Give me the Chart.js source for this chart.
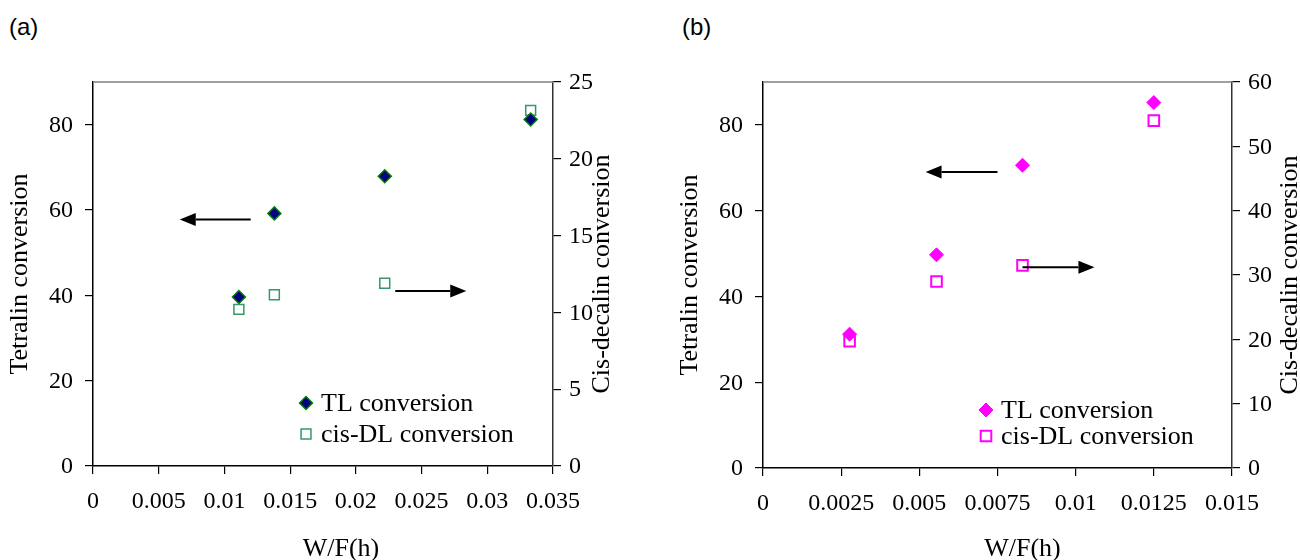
<!DOCTYPE html>
<html><head><meta charset="utf-8">
<script src="https://cdn.jsdelivr.net/npm/chart.js@4.4.1/dist/chart.umd.min.js"></script>
<style>
html,body{margin:0;padding:0;background:#fff;width:1300px;height:560px;overflow:hidden;}
canvas{position:absolute;top:0;}
#ca{left:0}
#cb{left:650px}
.lbl{position:absolute;top:13px;font-family:"Liberation Sans",Arial,sans-serif;font-size:24px;color:#000;line-height:28px}
</style></head><body>
<div class="lbl" style="left:9px">(a)</div>
<div class="lbl" style="left:682px">(b)</div>
<canvas id="ca" width="650" height="560"></canvas>
<canvas id="cb" width="650" height="560"></canvas>
<script>
// ---------- Data: panel (a) ----------
const xA = [0.0111, 0.0138, 0.0222, 0.0333];
const tlA = [39.6, 59.2, 67.9, 81.2];
const cisA = [10.2, 11.15, 11.9, 23.15];
const xTicksA = [0, 0.005, 0.01, 0.015, 0.02, 0.025, 0.03, 0.035];
const xTickLabelsA = ['0', '0.005', '0.01', '0.015', '0.02', '0.025', '0.03', '0.035'];
const y2TicksA = [0, 5, 10, 15, 20, 25];
const y2TickLabelsA = ['0', '5', '10', '15', '20', '25'];
const arrowsA = [
  {from: [0.0120, 57.8], to: [0.0066, 57.8], axis: 'y'},
  {from: [0.0230, 11.39], to: [0.0284, 11.39], axis: 'y2'}
];
// ---------- Data: panel (b) ----------
const xB = [0.00277, 0.00555, 0.0083, 0.0125];
const tlB = [31.2, 49.7, 70.6, 85.2];
const cisB = [19.7, 29.0, 31.5, 54.0];
const xTicksB = [0, 0.0025, 0.005, 0.0075, 0.01, 0.0125, 0.015];
const xTickLabelsB = ['0', '0.0025', '0.005', '0.0075', '0.01', '0.0125', '0.015'];
const y2TicksB = [0, 10, 20, 30, 40, 50, 60];
const y2TickLabelsB = ['0', '10', '20', '30', '40', '50', '60'];
const arrowsB = [
  {from: [0.0075, 69.0], to: [0.0052, 69.0], axis: 'y'},
  {from: [0.0083, 31.2], to: [0.0106, 31.2], axis: 'y2'}
];
// ---------- shared ----------
const yTicksLeft = [0, 20, 40, 60, 80];
const yTickLabelsLeft = ['0', '20', '40', '60', '80'];
const seriesNames = ['TL conversion', 'cis-DL conversion'];
const titleLeft = 'Tetralin conversion';
const titleRight = 'Cis-decalin conversion';
const titleX = 'W/F(h)';

const SERIF = '"Liberation Serif", "Times New Roman", serif';

const decorPlugin = {
  id: 'decor',
  afterDatasetsDraw(chart, args, o) {
    const ctx = chart.ctx, ca = chart.chartArea, sx = chart.scales.x, sy = chart.scales.y, sy2 = chart.scales.y2;
    ctx.save();
    // top border
    ctx.strokeStyle = '#808080'; ctx.lineWidth = 1.5;
    ctx.beginPath(); ctx.moveTo(ca.left, ca.top); ctx.lineTo(ca.right, ca.top); ctx.stroke();
    // tick labels, positioned by the library scales
    ctx.fillStyle = '#000'; ctx.font = '24px ' + SERIF;
    ctx.textBaseline = 'middle'; ctx.textAlign = 'center';
    sx.ticks.forEach((t, i) => ctx.fillText(o.labels.x[i], sx.getPixelForValue(t.value), ca.bottom + 36));
    ctx.textAlign = 'right';
    sy.ticks.forEach((t, i) => ctx.fillText(o.labels.y[i], ca.left - 20, sy.getPixelForValue(t.value) + 1));
    ctx.textAlign = 'left';
    sy2.ticks.forEach((t, i) => ctx.fillText(o.labels.y2[i], ca.right + 16, sy2.getPixelForValue(t.value) + 1));
    // arrows
    ctx.strokeStyle = '#000'; ctx.fillStyle = '#000'; ctx.lineWidth = 2;
    o.arrows.forEach(a => {
      const x0 = sx.getPixelForValue(a.from[0]);
      const x1 = sx.getPixelForValue(a.to[0]);
      const y = chart.scales[a.axis].getPixelForValue(a.from[1]);
      const dir = Math.sign(x1 - x0), hl = 16, hw = 6.5;
      ctx.beginPath(); ctx.moveTo(x0, y); ctx.lineTo(x1 - dir * hl, y); ctx.stroke();
      ctx.beginPath(); ctx.moveTo(x1, y); ctx.lineTo(x1 - dir * hl, y - hw); ctx.lineTo(x1 - dir * hl, y + hw); ctx.closePath(); ctx.fill();
    });
    // legend
    ctx.font = '26px ' + SERIF;
    ctx.textAlign = 'left'; ctx.textBaseline = 'middle';
    chart.data.datasets.forEach((ds, i) => {
      const lx = o.legend.x, ly = o.legend.y + i * o.legend.dy;
      ctx.fillStyle = ds.pointBackgroundColor; ctx.strokeStyle = ds.pointBorderColor; ctx.lineWidth = ds.pointBorderWidth;
      Chart.helpers.drawPoint(ctx, {pointStyle: ds.pointStyle, radius: ds.pointRadius, rotation: 0, borderWidth: ds.pointBorderWidth}, lx, ly);
      ctx.fillStyle = '#000';
      ctx.fillText(ds.label, lx + 15, ly + 1);
    });
    // axis titles
    ctx.fillStyle = '#000'; ctx.textAlign = 'center'; ctx.textBaseline = 'middle';
    const cy = (ca.top + ca.bottom) / 2;
    [[o.titles.leftX, titleLeft], [o.titles.rightX, titleRight]].forEach(([tx, t]) => {
      ctx.save(); ctx.translate(tx, cy); ctx.rotate(-Math.PI / 2); ctx.fillText(t, 0, 0); ctx.restore();
    });
    ctx.fillText(titleX, (ca.left + ca.right) / 2 + o.titles.bottomDx, o.titles.bottomY);
    ctx.restore();
  }
};

function makeChart(id, cfg) {
  const gridOpts = {drawOnChartArea: false, drawTicks: true, tickLength: 8, color: '#000', tickColor: '#000', lineWidth: 1.2};
  const hidden = 'rgba(0,0,0,0)';
  return new Chart(document.getElementById(id), {
    type: 'scatter',
    data: {
      datasets: [
        {label: seriesNames[0], data: cfg.x.map((v, i) => ({x: v, y: cfg.tl[i]})), yAxisID: 'y',
          pointStyle: 'rectRot', pointRadius: cfg.dRad, pointHoverRadius: cfg.dRad,
          pointBackgroundColor: cfg.dFill, pointBorderColor: cfg.dBorder, pointBorderWidth: cfg.dBW, showLine: false},
        {label: seriesNames[1], data: cfg.x.map((v, i) => ({x: v, y: cfg.cis[i]})), yAxisID: 'y2',
          pointStyle: 'rect', pointRadius: cfg.sRad, pointHoverRadius: cfg.sRad,
          pointBackgroundColor: '#ffffff', pointBorderColor: cfg.sBorder, pointBorderWidth: cfg.sBW, showLine: false}
      ]
    },
    options: {
      responsive: false, animation: false, devicePixelRatio: 1,
      layout: {padding: {left: 0, right: 0, top: cfg.top, bottom: 0}},
      plugins: {legend: {display: false}, tooltip: {enabled: false},
        decor: {arrows: cfg.arrows, legend: cfg.legend, titles: cfg.titles,
          labels: {x: cfg.xLabels, y: yTickLabelsLeft, y2: cfg.y2Labels}}},
      scales: {
        x: {type: 'linear', min: 0, max: cfg.xTicks[cfg.xTicks.length - 1],
          afterBuildTicks: s => { s.ticks = cfg.xTicks.map(v => ({value: v})); },
          afterFit: s => { s.height = cfg.xH; },
          ticks: {callback: (v, i) => cfg.xLabels[i], color: hidden, padding: 14, maxRotation: 0, autoSkip: false},
          grid: gridOpts, border: {color: '#000', width: 1.5}},
        y: {type: 'linear', position: 'left', min: 0, max: 90,
          afterBuildTicks: s => { s.ticks = yTicksLeft.map(v => ({value: v})); },
          afterFit: s => { s.width = cfg.yW; },
          ticks: {callback: (v, i) => yTickLabelsLeft[i], color: hidden, padding: 11},
          grid: gridOpts, border: {color: '#000', width: 1.5}},
        y2: {type: 'linear', position: 'right', min: 0, max: cfg.y2Ticks[cfg.y2Ticks.length - 1],
          afterBuildTicks: s => { s.ticks = cfg.y2Ticks.map(v => ({value: v})); },
          afterFit: s => { s.width = cfg.y2W; },
          ticks: {callback: (v, i) => cfg.y2Labels[i], color: hidden, padding: 9},
          grid: gridOpts, border: {color: '#333', width: 1.5}}
      }
    },
    plugins: [decorPlugin]
  });
}

makeChart('ca', {
  x: xA, tl: tlA, cis: cisA, xTicks: xTicksA, xLabels: xTickLabelsA, y2Ticks: y2TicksA, y2Labels: y2TickLabelsA, arrows: arrowsA,
  dRad: 6.5, dFill: '#000080', dBorder: '#008000', dBW: 1.5, sRad: 7, sBorder: '#339966', sBW: 1.5,
  top: 82, xH: 94, yW: 93, y2W: 97,
  legend: {x: 306, y: 403, dy: 31},
  titles: {leftX: 20, rightX: 602, bottomY: 549, bottomDx: 18}
});
makeChart('cb', {
  x: xB, tl: tlB, cis: cisB, xTicks: xTicksB, xLabels: xTickLabelsB, y2Ticks: y2TicksB, y2Labels: y2TickLabelsB, arrows: arrowsB,
  dRad: 7, dFill: '#ff00ff', dBorder: '#ff00ff', dBW: 1, sRad: 7.5, sBorder: '#ff00ff', sBW: 2,
  top: 82, xH: 92, yW: 113, y2W: 68,
  legend: {x: 336, y: 410, dy: 26},
  titles: {leftX: 40, rightX: 640, bottomY: 549, bottomDx: 25}
});
</script>
</body></html>
